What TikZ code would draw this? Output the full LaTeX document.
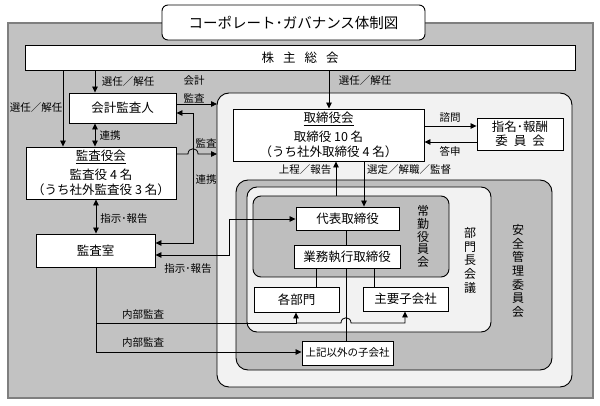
\documentclass[tikz,border=0pt]{standalone}
\usepackage{fontspec}
\setmainfont{Noto Sans CJK JP}
\usetikzlibrary{arrows.meta,calc}
\definecolor{outergray}{HTML}{C2C2C2}
\definecolor{lightgray2}{HTML}{F2F2F2}
\definecolor{midgray}{HTML}{BEBEBE}
\definecolor{edgegray}{HTML}{7F7F7F}
\begin{document}
\begin{tikzpicture}[x=1pt,y=-1pt,
  box/.style={draw=black,fill=white,line width=0.9pt,inner sep=1pt,align=center,font=\fontsize{12.5}{15}\selectfont},
  lbl/.style={inner sep=0pt,font=\fontsize{10.5}{12}\selectfont},
  vlbl/.style={inner sep=0pt,align=center,font=\fontsize{12}{13.7}\selectfont},
  region/.style={draw=black,line width=0.9pt,rounded corners=#1},
  conn/.style={line width=0.8pt},
  arr/.style={conn,-{Triangle[length=6pt,width=5.5pt]}},
  darr/.style={conn,{Triangle[length=6pt,width=5.5pt]}-{Triangle[length=6pt,width=5.5pt]}}
]
\useasboundingbox (0,0) rectangle (600,406);
\fill[white] (0,0) rectangle (600,406);
% outer area
\draw[fill=outergray,draw=edgegray,line width=1.8pt] (8,23) rectangle (593,398);
% title
\node[draw=black,fill=white,line width=0.9pt,rounded corners=6pt,minimum width=263pt,minimum height=35pt,font=\fontsize{14.5}{16}\selectfont] (title) at (293.5,22.5) {コーポレート･ガバナンス体制図};
% shareholders
\node[box,minimum width=550pt,minimum height=25pt] (kabu) at (300,57.5) {株\hspace{9pt}主\hspace{9pt}総\hspace{9pt}会};
% left side
\node[box,minimum width=107pt,minimum height=30pt] (kaikei) at (122.5,108) {会計監査人};
\node[box,minimum width=150pt,minimum height=52pt] (kansayaku) at (101,173) {\underline{監査役会}\\[4pt]監査役 4 名\\（うち社外監査役 3 名）};
\node[box,minimum width=119pt,minimum height=33pt] (kansashitsu) at (95.5,250.5) {監査室};
% regions
\draw[region=12pt,fill=lightgray2] (217,93) rectangle (572,387);
\coordinate (bigW) at (217,0);
\draw[region=12pt,fill=midgray] (236,180) rectangle (552,370);
\draw[region=10pt,fill=lightgray2] (247,187) rectangle (491,332);
\draw[region=8pt,fill=midgray] (253,196) rectangle (449,277);
\coordinate (joukinN) at (0,196);
\node[vlbl] (anzen) at (518,271) {安\\全\\管\\理\\委\\員\\会};
\node[vlbl] (bumonkaigi) at (470,260.5) {部\\門\\長\\会\\議};
\node[vlbl,font=\fontsize{12}{12.8}\selectfont] (joukin) at (423,236.5) {常\\勤\\役\\員\\会};
% board
\node[box,minimum width=191pt,minimum height=52pt] (tori) at (328.5,135) {\underline{取締役会}\\[4pt]取締役 10 名\\（うち社外取締役 4 名）};
\node[box,minimum width=86pt,minimum height=32pt,font=\fontsize{12.5}{14}\selectfont] (shimei) at (520,134) {指名･報酬\\委\hspace{6pt}員\hspace{6pt}会};
\node[box,minimum width=103pt,minimum height=23pt] (daihyo) at (347.5,218.5) {代表取締役};
\node[box,minimum width=106pt,minimum height=23pt] (gyomu) at (347,256.5) {業務執行取締役};
\node[box,minimum width=85pt,minimum height=25pt] (kakubu) at (296.5,299.5) {各部門};
\node[box,minimum width=85pt,minimum height=24pt] (shuyo) at (405.5,299) {主要子会社};
\node[box,minimum width=91pt,minimum height=24pt,font=\fontsize{10.5}{12}\selectfont] (igai) at (347.5,353) {上記以外の子会社};
% helper coordinates
\coordinate (xA) at (63,0);
\coordinate (xB) at (95,0);
\coordinate (xC) at (193,0);
\coordinate (xD) at (96,0);
\coordinate (xE) at (229,0);
\coordinate (yE) at (0,219);
\coordinate (xT) at (329,0);
\coordinate (xU) at (336,0);
\coordinate (xS) at (364,0);
\coordinate (xM) at (346,0);
\coordinate (xK) at (316,0);
\coordinate (xL) at (374,0);
\coordinate (xP) at (296,0);
\coordinate (xQ) at (405,0);
\coordinate (y1) at (0,104);
\coordinate (y2) at (0,113);
\coordinate (y3) at (0,243);
\coordinate (y4) at (0,154);
\coordinate (y5) at (0,255);
\coordinate (y6) at (0,126);
\coordinate (y7) at (0,142);
\coordinate (y8) at (0,323);
\coordinate (y9) at (0,352);
% connectors
\draw[arr] (kabu.south -| xA) -- (kansayaku.north -| xA);
\draw[arr] (kabu.south -| xB) -- (kaikei.north -| xB);
\draw[darr] (kaikei.south -| xB) -- (kansayaku.north -| xB);
\draw[arr] (kaikei.east |- y1) -- (bigW |- y1);
\draw[darr] (kaikei.east |- y2) -- (xC |- y2) -- (xC |- y3) -- (kansashitsu.east |- y3);
\draw[arr] (kansayaku.east |- y4) -- ($(xC |- y4)+(-5,0)$) .. controls ($(xC |- y4)+(-5,-7)$) and ($(xC |- y4)+(5,-7)$) .. ($(xC |- y4)+(5,0)$) -- (bigW |- y4);
\draw[darr] (kansayaku.south -| xD) -- (kansashitsu.north -| xD);
\draw[darr] (kansashitsu.east |- y5) -- (xE |- y5) -- (xE |- yE) -- (daihyo.west |- yE);
\draw[arr] (kabu.south -| xT) -- (tori.north -| xT);
\draw[arr] (tori.east |- y6) -- (shimei.west |- y6);
\draw[arr] (shimei.west |- y7) -- (tori.east |- y7);
\draw[arr] (joukinN -| xU) -- (tori.south -| xU);
\draw[arr] (tori.south -| xS) -- (daihyo.north -| xS);
\draw[conn] (daihyo.south -| xM) -- (gyomu.north -| xM);
\draw[conn] (gyomu.south -| xK) -- (kakubu.north -| xK);
\draw[conn] (gyomu.south -| xL) -- (shuyo.north -| xL);
\draw[conn] (gyomu.south -| xM) -- (igai.north -| xM);
\draw[arr] (kansashitsu.south -| xD) -- (xD |- y9) -- (igai.west |- y9);
\draw[arr] (xD |- y8) -- (xP |- y8) -- (kakubu.south -| xP);
\draw[arr] (xP |- y8) -- ($(xM |- y8)+(-5,0)$) .. controls ($(xM |- y8)+(-5,-7)$) and ($(xM |- y8)+(5,-7)$) .. ($(xM |- y8)+(5,0)$) -- (xQ |- y8) -- (shuyo.south -| xQ);
% labels
\node[lbl] (l1) at (36,108) {選任／解任};
\node[lbl] (l2) at (128,82) {選任／解任};
\node[lbl] (l3) at (194,81) {会計};
\node[lbl] (l4) at (194,98) {監査};
\node[lbl] (l5) at (110,136) {連携};
\node[lbl] (l6) at (206,143) {監査};
\node[lbl] (l7) at (206,180) {連携};
\node[lbl] (l8) at (124,219) {指示･報告};
\node[lbl] (l9) at (188,269) {指示･報告};
\node[lbl] (l10) at (365,81) {選任／解任};
\node[lbl] (l11) at (450,118) {諮問};
\node[lbl] (l12) at (450,151) {答申};
\node[lbl] (l13) at (305,170) {上程／報告};
\node[lbl] (l14) at (409,170) {選定／解職／監督};
\node[lbl] (l15) at (143,315) {内部監査};
\node[lbl] (l16) at (143,343) {内部監査};
\end{tikzpicture}
\end{document}
